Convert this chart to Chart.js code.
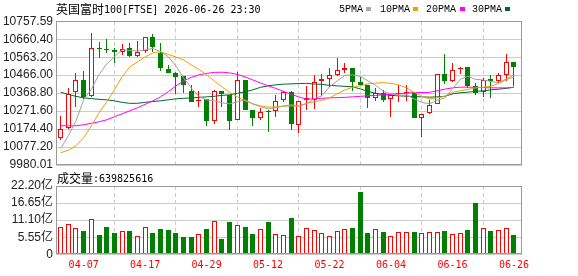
<!DOCTYPE html>
<html><head><meta charset="utf-8">
<script src="https://cdn.jsdelivr.net/npm/chart.js@4/dist/chart.umd.min.js"></script>
<style>
html,body{margin:0;padding:0;background:#fff;width:578px;height:276px;overflow:hidden;}
#wrap{position:relative;width:578px;height:276px;}
canvas{position:absolute;left:0;}
.t{position:absolute;white-space:nowrap;color:#000;line-height:1;}
.cjk{font-family:"Noto Sans CJK SC",sans-serif;font-size:12px;}
.mono{font-family:"DejaVu Sans Mono",monospace;font-size:10px;}
.lmono{font-family:"Liberation Mono",monospace;font-size:10px;}
.sq{position:absolute;width:5px;height:4px;top:7px;}
</style></head><body>
<div id="wrap">
<canvas id="pc" width="578" height="180" style="top:0"></canvas>
<canvas id="vc" width="578" height="106" style="top:170px"></canvas>
<div class="t cjk" style="left:56px;top:2.7px">英国富时</div>
<div class="t mono" style="left:104px;top:4.8px">100[FTSE] 2026-06-26 23:30</div>
<div class="t lmono" style="left:339px;top:5px">5PMA</div><div class="sq" style="left:366px;background:#aaaaaa"></div>
<div class="t lmono" style="left:380px;top:5px">10PMA</div><div class="sq" style="left:413px;background:#f0a000"></div>
<div class="t lmono" style="left:426px;top:5px">20PMA</div><div class="sq" style="left:460px;background:#ff00ff"></div>
<div class="t lmono" style="left:472px;top:5px">30PMA</div><div class="sq" style="left:505px;background:#006633"></div>
<div class="t cjk" style="left:57px;top:172px">成交量</div>
<div class="t mono" id="vlabel" style="left:93px;top:174px"></div>
</div>
<script>
const dates = ['03-31','04-01','04-02','04-07','04-08','04-09','04-10','04-13','04-14','04-15','04-16','04-17','04-20','04-21','04-22','04-23','04-24','04-27','04-28','04-29','04-30','05-01','05-05','05-06','05-07','05-08','05-11','05-12','05-13','05-14','05-15','05-18','05-19','05-20','05-21','05-22','05-26','05-27','05-28','05-29','06-01','06-02','06-03','06-04','06-05','06-08','06-09','06-10','06-11','06-12','06-15','06-16','06-17','06-18','06-19','06-22','06-23','06-24','06-25','06-26'];
const xTickLabels = ['04-07','04-17','04-29','05-12','05-22','06-04','06-16','06-26'];
const priceTicks = [9980.01, 10077.20, 10174.40, 10271.60, 10368.80, 10466.00, 10563.20, 10660.40, 10757.59];
const volTicks = [0, 5.55, 11.10, 16.65, 22.20];
const volumeTotal = '639825616';

const open = [10125.8,10179.8,10374.2,10439.0,10354.2,10612.0,10608.0,10602.6,10593.4,10613.4,10570.2,10598.8,10674.4,10584.8,10498.4,10480.0,10462.2,10381.2,10329.0,10338.0,10215.4,10381.2,10359.6,10224.6,10440.6,10278.6,10237.0,10274.8,10274.8,10332.6,10377.4,10197.6,10332.6,10332.6,10436.8,10444.4,10467.6,10494.6,10503.8,10431.4,10413.6,10341.8,10368.8,10336.4,10365.0,10368.8,10372.0,10233.8,10260.8,10309.4,10471.4,10436.8,10498.4,10509.2,10408.0,10377.4,10444.4,10435.2,10467.6,10536.0];
const high = [10246.2,10395.8,10476.8,10490.8,10696.0,10647.5,10660.4,10615.0,10633.4,10638.8,10649.6,10674.4,10689.0,10638.8,10521.6,10482.0,10463.0,10413.6,10381.2,10339.0,10386.6,10382.0,10360.5,10485.4,10441.5,10279.5,10287.8,10275.5,10359.6,10382.8,10378.5,10328.0,10408.2,10467.6,10473.0,10503.8,10557.8,10530.8,10504.5,10458.4,10414.5,10395.8,10386.6,10360.5,10413.6,10413.6,10373.0,10256.0,10332.6,10473.5,10578.0,10530.8,10509.8,10510.0,10422.8,10449.8,10467.6,10476.8,10578.0,10536.8];
const low = [10112.8,10174.4,10293.2,10336.4,10347.2,10557.8,10584.8,10534.0,10575.6,10566.5,10566.5,10584.8,10593.4,10490.8,10476.8,10365.0,10368.8,10322.0,10293.2,10188.4,10203.0,10293.2,10166.8,10223.5,10277.5,10188.4,10224.6,10156.0,10242.4,10323.4,10170.6,10152.8,10278.6,10282.4,10354.2,10404.4,10462.2,10476.8,10382.8,10413.0,10291.0,10328.8,10323.4,10242.4,10323.4,10328.8,10233.0,10131.2,10255.4,10308.5,10418.0,10431.4,10473.0,10398.0,10359.6,10350.4,10341.8,10422.8,10432.0,10408.0];
const close = [10174.4,10365.0,10439.0,10347.2,10611.8,10606.0,10600.0,10590.2,10609.6,10570.2,10590.2,10671.2,10620.4,10503.8,10480.0,10458.4,10413.6,10323.4,10333.0,10215.4,10381.2,10365.0,10220.8,10440.6,10278.6,10233.8,10267.8,10271.6,10327.2,10377.4,10203.0,10327.2,10343.4,10431.4,10444.4,10467.6,10494.6,10503.8,10431.4,10413.6,10341.8,10372.0,10332.6,10359.6,10372.0,10375.8,10233.8,10255.4,10305.6,10473.0,10436.8,10492.0,10507.0,10408.0,10368.8,10440.6,10435.2,10467.6,10535.0,10512.4];

const ma5 = [10068.0,10138.2,10219.2,10332.6,10390.0,10470.0,10527.0,10564.8,10602.6,10599.9,10597.2,10602.6,10610.7,10593.4,10566.4,10516.2,10451.4,10397.4,10350.4,10332.6,10327.2,10316.4,10311.0,10321.8,10332.6,10311.0,10294.8,10284.0,10289.4,10300.2,10305.6,10300.2,10311.0,10338.0,10354.2,10402.8,10435.2,10464.9,10467.6,10459.5,10435.2,10410.9,10378.5,10365.0,10356.9,10359.6,10338.0,10319.1,10311.0,10329.9,10343.4,10392.0,10443.3,10459.5,10443.3,10440.6,10432.5,10424.4,10446.0,10467.6];
const ma10 = [10046.4,10059.9,10084.2,10127.4,10192.2,10262.4,10321.8,10386.6,10456.8,10510.8,10537.8,10564.8,10586.4,10593.4,10578.3,10564.8,10548.6,10521.6,10497.3,10467.6,10435.2,10402.8,10373.1,10348.8,10327.2,10311.0,10300.2,10293.2,10294.8,10297.5,10300.2,10297.5,10313.7,10321.8,10329.9,10343.4,10365.0,10386.6,10400.1,10408.2,10419.0,10423.3,10426.0,10421.7,10413.6,10397.4,10373.1,10351.5,10338.0,10343.4,10351.5,10373.1,10381.2,10389.3,10397.4,10401.2,10405.5,10421.7,10440.6,10456.8];
const ma20 = [10192.2,10192.2,10192.2,10197.6,10205.7,10213.8,10224.6,10240.8,10257.0,10273.2,10289.4,10308.3,10327.2,10348.8,10375.8,10408.2,10435.2,10454.1,10467.6,10475.7,10481.1,10482.2,10478.4,10470.3,10456.8,10440.6,10424.4,10408.2,10394.7,10378.5,10362.3,10348.8,10335.3,10339.1,10340.7,10343.4,10344.5,10346.1,10348.8,10351.5,10354.2,10356.9,10359.6,10362.3,10365.0,10368.8,10372.0,10372.0,10373.1,10381.2,10390.4,10397.4,10401.2,10401.2,10400.1,10399.0,10397.4,10397.4,10397.4,10400.1];
const ma30 = [10374.2,10362.3,10351.5,10343.4,10339.1,10335.3,10332.6,10327.2,10319.1,10313.7,10313.7,10319.1,10323.4,10327.2,10332.6,10338.0,10340.7,10343.4,10346.1,10348.8,10351.5,10356.9,10359.6,10367.7,10375.8,10386.6,10400.1,10408.2,10413.6,10417.4,10419.0,10420.6,10421.7,10417.9,10416.3,10410.9,10408.2,10405.5,10402.8,10392.0,10378.5,10367.7,10362.3,10356.9,10354.2,10352.6,10350.4,10348.8,10347.2,10348.8,10351.5,10365.0,10370.4,10374.2,10378.5,10381.2,10386.6,10390.4,10394.7,10401.2];
// volume in 亿 (1e8)
const volume = [9.03,9.89,8.60,7.43,11.48,6.16,9.03,6.90,7.43,7.43,5.84,9.03,6.90,8.07,7.75,6.90,5.52,5.52,6.48,8.07,10.94,4.88,10.40,9.67,9.03,6.48,8.07,10.62,6.48,6.16,11.90,5.84,8.39,7.75,6.90,5.84,7.53,8.07,8.39,20.20,6.90,8.30,7.11,5.84,7.11,7.11,7.11,6.90,7.11,7.11,7.43,6.48,6.90,7.75,16.70,8.70,7.43,7.75,8.39,6.40];

document.getElementById('vlabel').textContent = ':' + volumeTotal;

const RED = '#ff0000', GREEN = '#008000';
const idx = dates.map((d, i) => i);
const up = close.map((c, i) => c >= open[i]);
const xTickIdx = xTickLabels.map(l => dates.indexOf(l));
const X_MIN = -0.6, X_MAX = 60.05;
const tickFont = {family: "'Liberation Sans', Arial, 'Noto Sans CJK SC', sans-serif", size: 12};

const framePlugin = {
  id: 'frame',
  afterDatasetsDraw(chart) {
    const a = chart.chartArea, c = chart.ctx;
    c.save();
    c.strokeStyle = '#999999';
    c.lineWidth = 1;
    c.strokeRect(Math.round(a.left) + 0.5, Math.round(a.top) + 0.5,
                 Math.round(a.right - a.left) - 1, Math.round(a.bottom - a.top) - 1);
    c.restore();
  }
};

// snap bar elements (positioned by the scales) onto whole pixels for crisp 1px strokes
const snapPlugin = {
  id: 'snap',
  beforeDatasetsDraw(chart) {
    chart.getSortedVisibleDatasetMetas().forEach(meta => {
      if (meta.type !== 'bar') return;
      meta.data.forEach(el => {
        el.x = Math.floor(el.x) + 0.5;
        let y = Math.round(el.y), b = Math.round(el.base);
        if (Math.abs(y - b) < 1) b = y + 1;
        el.y = y; el.base = b;
      });
    });
  }
};

function xAxis(showTicks) {
  return {
    type: 'linear', min: X_MIN, max: X_MAX, offset: false,
    afterBuildTicks: s => { s.ticks = xTickIdx.map(v => ({value: v})); },
    afterFit: s => { s.height = showTicks ? 21.7 : 0; },
    grid: {color: '#cccccc', drawTicks: false, lineWidth: 1},
    border: {display: false, dash: [4, 3]},
    ticks: {display: showTicks, autoSkip: false, maxRotation: 0, padding: 5, color: RED,
            font: {family: "'DejaVu Sans Mono', monospace", size: 10},
            callback: v => dates[v] || ''}
  };
}

function line(data, color) {
  return {type: 'line', data: data.map((v, i) => ({x: i, y: v})), borderColor: color, borderWidth: 1,
          pointRadius: 0, pointHoverRadius: 0, tension: 0, fill: false, order: 1};
}

new Chart(document.getElementById('pc'), {
  type: 'bar',
  data: {
    datasets: [
      line(ma5, '#a0a0a0'),
      line(ma10, '#f0a000'),
      line(ma20, '#ff00ff'),
      line(ma30, '#006633'),
      {type: 'bar', data: idx.map(i => ({x: i, y: [open[i], close[i]]})),
       backgroundColor: up.map(u => u ? '#ffffff' : GREEN), borderColor: up.map(u => u ? RED : GREEN),
       borderWidth: 1, borderSkipped: false, grouped: false, maxBarThickness: 5, inflateAmount: 0, order: 2},
      {type: 'bar', data: idx.map(i => ({x: i, y: [low[i], high[i]]})),
       backgroundColor: up.map(u => u ? RED : GREEN), borderWidth: 0,
       grouped: false, maxBarThickness: 1, inflateAmount: 0, order: 3}
    ]
  },
  options: {
    responsive: false, animation: false, events: [],
    layout: {padding: {top: 21.3, bottom: 15, left: 0, right: 56}},
    plugins: {legend: {display: false}, tooltip: {enabled: false}},
    scales: {
      x: xAxis(false),
      y: {
        type: 'linear', min: priceTicks[0], max: priceTicks[priceTicks.length - 1],
        afterBuildTicks: s => { s.ticks = priceTicks.map(v => ({value: v})); },
        afterFit: s => { s.width = 56; },
        grid: {color: '#cccccc', drawTicks: false},
        border: {display: false},
        ticks: {padding: 3, autoSkip: false, color: '#222222', font: tickFont,
                callback: v => Number(v).toFixed(2)}
      }
    }
  },
  plugins: [snapPlugin, framePlugin]
});

new Chart(document.getElementById('vc'), {
  type: 'bar',
  data: {
    datasets: [
      {type: 'bar', data: idx.map(i => ({x: i, y: volume[i]})),
       backgroundColor: up.map(u => u ? '#ffffff' : GREEN), borderColor: up.map(u => u ? RED : GREEN),
       borderWidth: 1, borderSkipped: false, grouped: false, maxBarThickness: 5, inflateAmount: 0}
    ]
  },
  options: {
    responsive: false, animation: false, events: [],
    layout: {padding: {top: 16, bottom: 0, left: 0, right: 56}},
    plugins: {legend: {display: false}, tooltip: {enabled: false}},
    scales: {
      x: xAxis(true),
      y: {
        type: 'linear', min: volTicks[0], max: volTicks[volTicks.length - 1],
        afterBuildTicks: s => { s.ticks = volTicks.map(v => ({value: v})); },
        afterFit: s => { s.width = 56; },
        grid: {color: '#cccccc', drawTicks: false},
        border: {display: false},
        ticks: {padding: 3, autoSkip: false, color: '#222222', font: tickFont,
                callback: v => v === 0 ? '0' : Number(v).toFixed(2) + '亿'}
      }
    }
  },
  plugins: [snapPlugin, framePlugin]
});
</script>
</body></html>
